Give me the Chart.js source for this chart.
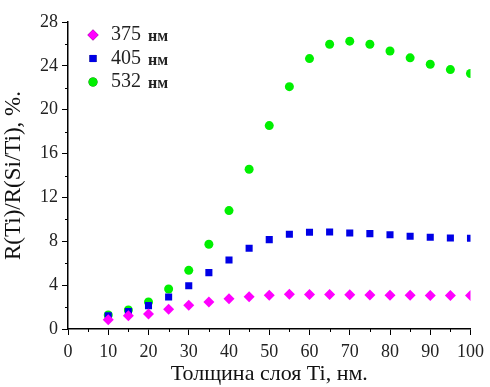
<!DOCTYPE html>
<html>
<head>
<meta charset="utf-8">
<script src="https://cdn.jsdelivr.net/npm/chart.js@4"></script>
<style>
  html, body { margin: 0; padding: 0; background: #fff; }
  #wrap { width: 490px; height: 387px; }
</style>
</head>
<body>
<div id="wrap"><canvas id="c" width="490" height="387"></canvas></div>
<script>
const thickness = [10, 15, 20, 25, 30, 35, 40, 45, 50, 55, 60, 65, 70, 75, 80, 85, 90, 95, 100];
const r375 = [0.85, 1.21, 1.37, 1.8, 2.16, 2.46, 2.77, 2.95, 3.07, 3.16, 3.14, 3.14, 3.12, 3.1, 3.08, 3.07, 3.06, 3.06, 3.06];
const r405 = [1.2, 1.6, 2.13, 2.92, 3.95, 5.14, 6.3, 7.36, 8.15, 8.64, 8.82, 8.85, 8.76, 8.7, 8.6, 8.46, 8.37, 8.3, 8.27];
const r532 = [1.28, 1.73, 2.46, 3.65, 5.35, 7.73, 10.8, 14.57, 18.55, 22.1, 24.66, 25.97, 26.25, 25.97, 25.36, 24.73, 24.15, 23.66, 23.3];
const labels = ['375', '405', '532'];
const unit = 'нм';
const xTitle = 'Толщина слоя Ti, нм.';
const yTitle = 'R(Ti)/R(Si/Ti), %.';

const serif = '"Liberation Serif", "DejaVu Serif", serif';
const toPts = (ys) => ys.map((y, i) => ({ x: thickness[i], y }));

// minor ticks, Origin style
const minorTicks = {
  id: 'minorTicks',
  afterDraw(chart) {
    const { ctx, scales: { x, y } } = chart;
    ctx.save();
    ctx.strokeStyle = '#000';
    ctx.lineWidth = 1;
    for (let v = 5; v < 100; v += 10) {
      const px = Math.round(x.getPixelForValue(v)) + 0.5;
      ctx.beginPath();
      ctx.moveTo(px, x.top);
      ctx.lineTo(px, x.top + 3);
      ctx.stroke();
    }
    for (let v = 2; v < 28; v += 4) {
      const py = Math.round(y.getPixelForValue(v)) + 0.5;
      ctx.beginPath();
      ctx.moveTo(y.right, py);
      ctx.lineTo(y.right - 3, py);
      ctx.stroke();
    }
    ctx.restore();
  },
};

// legend in the top-left corner of the plot
const innerLegend = {
  id: 'innerLegend',
  afterDraw(chart) {
    const { ctx } = chart;
    ctx.save();
    chart.data.datasets.forEach((ds, i) => {
      const cy = 35 + i * 23.5;
      Chart.helpers.drawPoint(ctx, {
        pointStyle: ds.pointStyle,
        radius: ds.pointRadius,
        borderWidth: 0,
      }, 93, cy);
      ctx.fillStyle = ds.backgroundColor;
      ctx.fill();
      ctx.fillStyle = '#222';
      ctx.textBaseline = 'middle';
      ctx.font = '20px ' + serif;
      ctx.fillText(labels[i], 111, cy);
      ctx.font = 'bold 16px ' + serif;
      ctx.fillText(unit, 148, cy + 2);
    });
    ctx.restore();
  },
};

new Chart(document.getElementById('c'), {
  type: 'scatter',
  data: {
    datasets: [
      {
        label: labels[0] + ' ' + unit,
        data: toPts(r375),
        pointStyle: 'rectRot',
        pointRadius: 5.5,
        backgroundColor: '#ff00ff',
        borderWidth: 0,
      },
      {
        label: labels[1] + ' ' + unit,
        data: toPts(r405),
        pointStyle: 'rect',
        pointRadius: 5,
        backgroundColor: '#0000e6',
        borderWidth: 0,
      },
      {
        label: labels[2] + ' ' + unit,
        data: toPts(r532),
        pointStyle: 'circle',
        pointRadius: 4.5,
        backgroundColor: '#00f000',
        borderWidth: 0,
      },
    ],
  },
  options: {
    responsive: false,
    animation: false,
    layout: { padding: { top: 22, right: 18, left: 0, bottom: 0 } },
    plugins: {
      legend: { display: false },
      tooltip: { enabled: false },
    },
    scales: {
      x: {
        type: 'linear',
        min: 0,
        max: 100,
        afterFit: (s) => { s.height = 58; },
        ticks: {
          stepSize: 10,
          color: '#222',
          padding: 6,
          font: { family: serif, size: 18 },
        },
        grid: { drawOnChartArea: false, tickLength: 6, color: '#000' },
        border: { color: '#000', width: 1.5 },
        title: {
          display: true,
          text: xTitle,
          color: '#111',
          font: { family: serif, size: 22 },
          padding: { top: 2, bottom: 0 },
        },
      },
      y: {
        min: 0,
        max: 28,
        afterFit: (s) => { s.width = 68; },
        ticks: {
          stepSize: 4,
          color: '#222',
          padding: 4,
          font: { family: serif, size: 18 },
        },
        grid: { drawOnChartArea: false, tickLength: 6, color: '#000' },
        border: { color: '#000', width: 1.5 },
        title: {
          display: true,
          text: yTitle,
          color: '#111',
          font: { family: serif, size: 23 },
          padding: { top: 0, bottom: 2 },
        },
      },
    },
  },
  plugins: [minorTicks, innerLegend],
});
</script>
</body>
</html>
